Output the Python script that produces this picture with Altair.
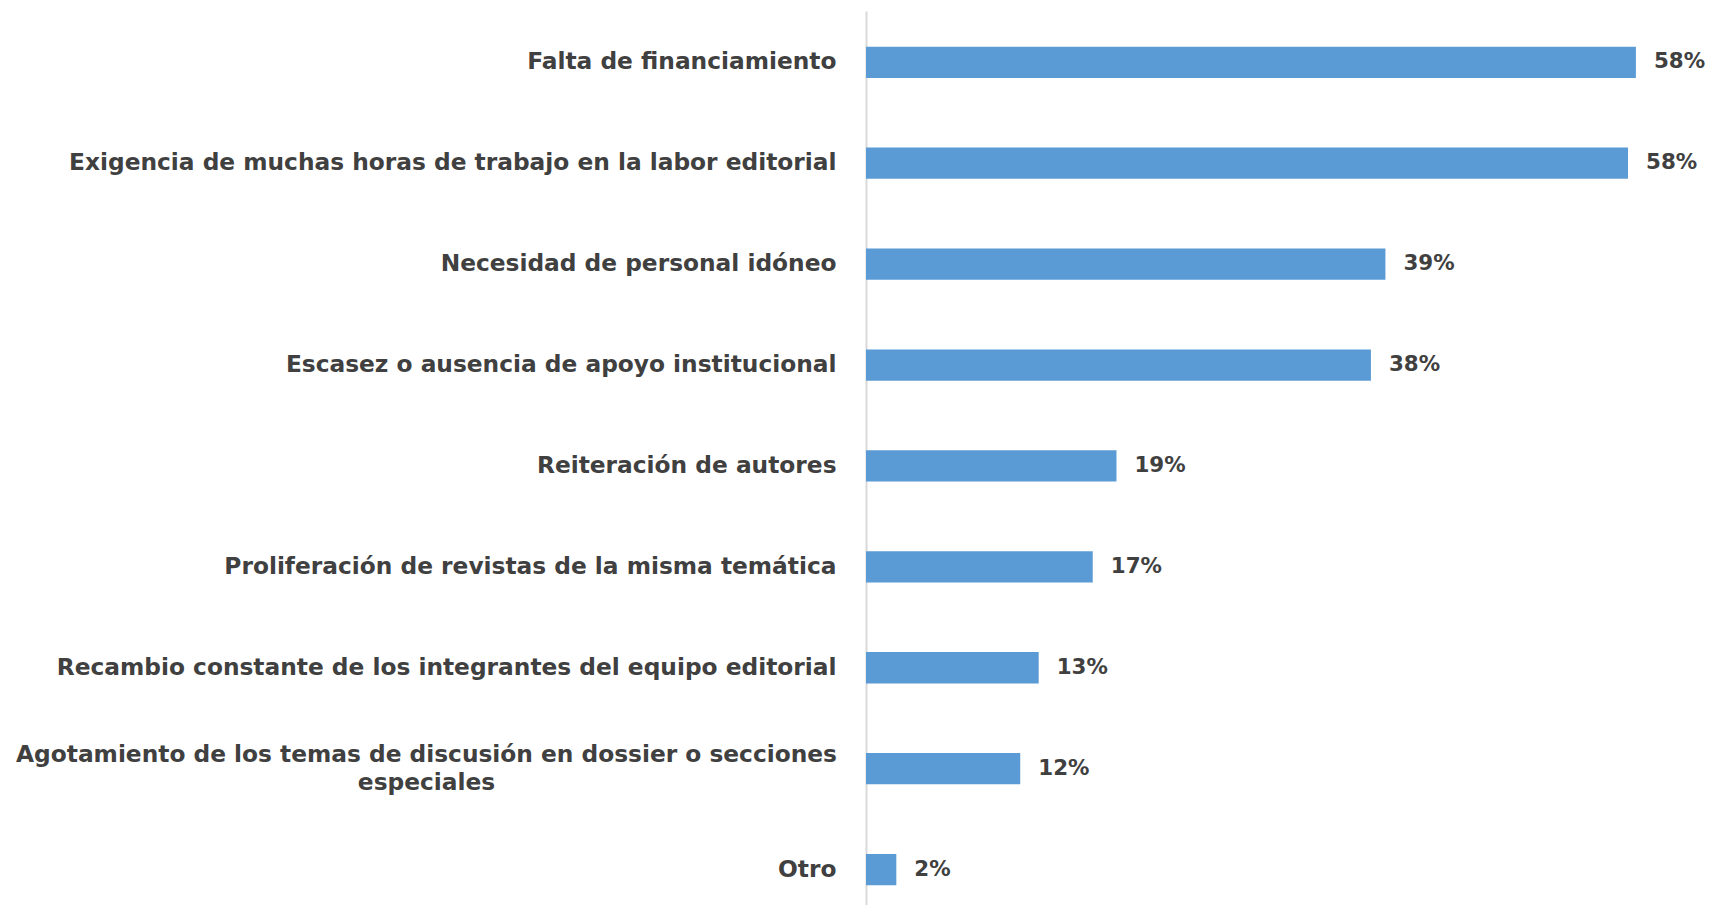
import altair as alt
import pandas as pd

categories = [
    "Falta de financiamiento",
    "Exigencia de muchas horas de trabajo en la labor editorial",
    "Necesidad de personal idóneo",
    "Escasez o ausencia de apoyo institucional",
    "Reiteración de autores",
    "Proliferación de revistas de la misma temática",
    "Recambio constante de los integrantes del equipo editorial",
    "Agotamiento de los temas de discusión en dossier o secciones|especiales",
    "Otro",
]
values = [58.4, 57.8, 39.4, 38.3, 19.0, 17.2, 13.1, 11.7, 2.3]
value_labels = ["58%", "58%", "39%", "38%", "19%", "17%", "13%", "12%", "2%"]

df = pd.DataFrame({"categoria": categories, "valor": values, "etiqueta": value_labels})

FONT = "DejaVu Sans"
TXT = "#404040"
multi = "indexof(datum.value, '|') >= 0"

y_enc = alt.Y(
    "categoria:N",
    sort=categories,
    scale=alt.Scale(paddingInner=0.69, paddingOuter=0.275, align=0.643),
    axis=alt.Axis(
        title=None,
        domain=True,
        domainColor="#D9D9D9",
        domainWidth=2,
        ticks=False,
        grid=False,
        labelFont=FONT,
        labelFontSize=23.3,
        labelFontWeight="bold",
        labelColor=TXT,
        labelLimit=2000,
        labelExpr="split(datum.label, '|')",
        labelLineHeight=28,
        labelBaseline="middle",
        labelAlign={"condition": {"test": multi, "value": "center"}, "value": "right"},
        labelPadding={"condition": {"test": multi, "value": 440}, "value": 30},
        labelOffset={"condition": {"test": multi, "value": -14}, "value": 0},
    ),
)
x_enc = alt.X("valor:Q", scale=alt.Scale(domain=[0, 60]), axis=None)

bars = alt.Chart(df).mark_bar(color="#5B9BD5").encode(x=x_enc, y=y_enc)
text = alt.Chart(df).mark_text(
    align="left", baseline="middle", dx=18, font=FONT, fontSize=21.4,
    fontWeight="bold", color=TXT,
).encode(x=x_enc, y=alt.Y("categoria:N", sort=categories), text="etiqueta:N")

chart = (
    alt.layer(bars, text)
    .properties(
        width=791,
        height=894,
        background="white",
        autosize=alt.AutoSizeParams(type="none"),
        padding={"left": 858, "top": 3, "right": 48, "bottom": 0},
    )
    .configure_view(strokeWidth=0, stroke=None)
)

chart.save("out.html", embed_options={"renderer": "svg", "actions": False})
